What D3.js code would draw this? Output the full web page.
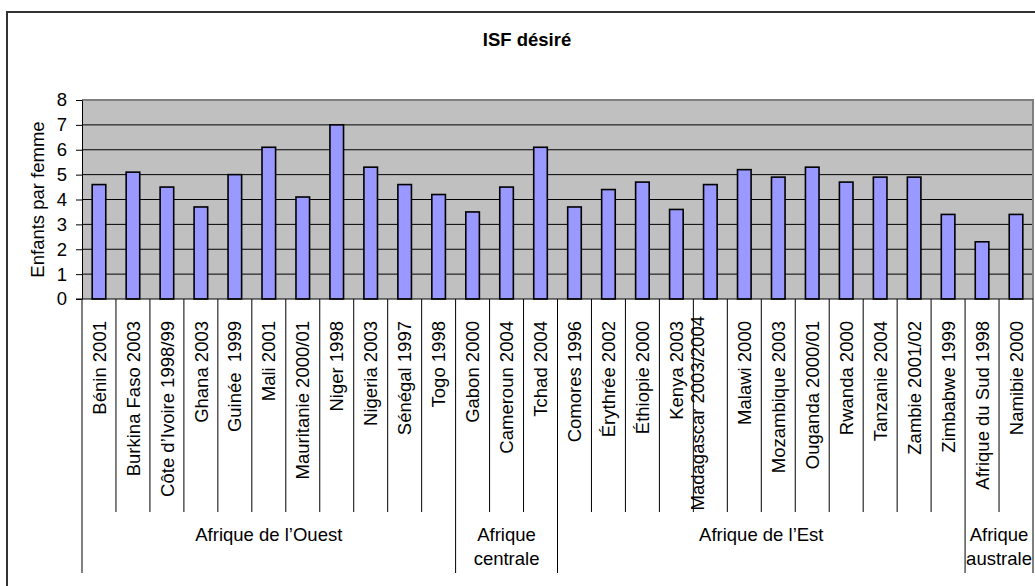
<!DOCTYPE html>
<meta charset="utf-8">
<script src="https://d3js.org/d3.v7.min.js"></script>
<style>
  body { margin: 0; background: #fff; }
  text { font-family: "Liberation Sans", Arial, sans-serif; fill: #000; }
</style>
<body>
<div id="chart"></div>
<script>
  // data
  const categories = ["Bénin 2001", "Burkina Faso 2003", "Côte d’Ivoire 1998/99", "Ghana 2003", "Guinée  1999",
    "Mali 2001", "Mauritanie 2000/01", "Niger 1998", "Nigeria 2003", "Sénégal 1997", "Togo 1998",
    "Gabon 2000", "Cameroun 2004", "Tchad 2004",
    "Comores 1996", "Érythrée 2002", "Éthiopie 2000", "Kenya 2003", "Madagascar 2003/2004", "Malawi 2000",
    "Mozambique 2003", "Ouganda 2000/01", "Rwanda 2000", "Tanzanie 2004", "Zambie 2001/02", "Zimbabwe 1999",
    "Afrique du Sud 1998", "Namibie 2000"];
  const values = [4.6, 5.1, 4.5, 3.7, 5.0, 6.1, 4.1, 7.0, 5.3, 4.6, 4.2,
    3.5, 4.5, 6.1,
    3.7, 4.4, 4.7, 3.6, 4.6, 5.2, 4.9, 5.3, 4.7, 4.9, 4.9, 3.4,
    2.3, 3.4];
  const groups = [["Afrique de l’Ouest"], ["Afrique", "centrale"], ["Afrique de l’Est"], ["Afrique", "australe"]];
  const groupSizes = [11, 3, 12, 2];
  const yTicks = [0, 1, 2, 3, 4, 5, 6, 7, 8];
  const title = "ISF désiré";
  const yTitle = "Enfants par femme";

  const W = 1035, H = 586;
  const margin = {left: 82, right: 1033, top: 100, bottom: 299};
  const fs = 18.5;

  const svg = d3.select("#chart").append("svg")
    .attr("width", W).attr("height", H);

  // outer chart frame (runs off the right and bottom edges)
  svg.append("rect")
    .attr("x", 7).attr("y", 12).attr("width", W + 20).attr("height", H + 20)
    .attr("fill", "#fff").attr("stroke", "#333").attr("stroke-width", 2);

  svg.append("text")
    .attr("x", 527).attr("y", 46)
    .attr("text-anchor", "middle")
    .style("font-weight", "bold").style("font-size", fs + "px")
    .text(title);

  const x = d3.scaleBand().domain(categories).range([margin.left, margin.right]).padding(0);
  const y = d3.scaleLinear().domain([0, 8]).range([margin.bottom, margin.top]);

  // plot area
  svg.append("rect")
    .attr("x", margin.left).attr("y", margin.top)
    .attr("width", margin.right - margin.left).attr("height", margin.bottom - margin.top)
    .attr("fill", "#c0c0c0");

  // gridlines
  svg.append("g")
    .selectAll("line")
    .data(yTicks.filter(d => d > 0 && d < 8))
    .join("line")
      .attr("x1", margin.left).attr("x2", margin.right)
      .attr("y1", d => y(d)).attr("y2", d => y(d))
      .attr("stroke", "#000").attr("stroke-width", 1);

  // grey top / right border of plot
  svg.append("path")
    .attr("d", `M${margin.left},${y(8)}H${margin.right}V${margin.bottom}`)
    .attr("fill", "none").attr("stroke", "#808080").attr("stroke-width", 2);

  // bars
  const bw = x.bandwidth();
  svg.append("g")
    .selectAll("rect")
    .data(categories)
    .join("rect")
      .attr("x", d => x(d) + bw * 0.3)
      .attr("width", bw * 0.4)
      .attr("y", (d, i) => y(values[i]))
      .attr("height", (d, i) => y(0) - y(values[i]))
      .attr("fill", "#9999ff")
      .attr("stroke", "#000").attr("stroke-width", 1.6);

  // y axis
  const yAxis = svg.append("g")
    .attr("transform", `translate(${margin.left},0)`)
    .call(d3.axisLeft(y).tickValues(yTicks).tickSize(6).tickSizeOuter(0).tickPadding(9));
  yAxis.attr("font-family", null).attr("font-size", null);
  yAxis.select(".domain").attr("stroke", "#000");
  yAxis.selectAll(".tick line").attr("stroke", "#000");
  yAxis.selectAll(".tick text").style("font-size", fs + "px");

  svg.append("text")
    .attr("transform", `translate(44,${(margin.top + margin.bottom) / 2}) rotate(-90)`)
    .attr("text-anchor", "middle")
    .style("font-size", fs + "px")
    .text(yTitle);

  // category axis baseline
  svg.append("line")
    .attr("x1", margin.left - 6).attr("x2", margin.right)
    .attr("y1", margin.bottom).attr("y2", margin.bottom)
    .attr("stroke", "#000");

  // separators: category boundaries short, group boundaries long
  const groupEnds = [0];
  groupSizes.forEach(n => groupEnds.push(groupEnds[groupEnds.length - 1] + n));
  const boundaries = d3.range(categories.length + 1);
  svg.append("g")
    .selectAll("line")
    .data(boundaries)
    .join("line")
      .attr("x1", i => margin.left + i * bw).attr("x2", i => margin.left + i * bw)
      .attr("y1", margin.bottom)
      .attr("y2", i => groupEnds.includes(i) ? 573 : 512)
      .attr("stroke", "#000").attr("stroke-width", 1);

  // category labels (rotated)
  const nudge = {"Madagascar 2003/2004": [-13, -5]};
  svg.append("g")
    .selectAll("text")
    .data(categories)
    .join("text")
      .attr("transform", d => {
        const n = nudge[d] || [0, 0];
        return `translate(${x(d) + bw / 2 + n[0] + fs * 0.36},${321 + n[1]}) rotate(-90)`;
      })
      .attr("text-anchor", "end")
      .style("font-size", fs + "px")
      .style("white-space", "pre")
      .text(d => d);

  // group labels
  svg.append("g")
    .selectAll("text")
    .data(groups)
    .join("text")
      .attr("x", (d, i) => margin.left + (groupEnds[i] + groupEnds[i + 1]) / 2 * bw)
      .attr("y", 541)
      .attr("text-anchor", "middle")
      .style("font-size", fs + "px")
      .selectAll("tspan")
      .data(d => d)
      .join("tspan")
        .attr("x", function () { return this.parentNode.getAttribute("x"); })
        .attr("dy", (d, i) => i === 0 ? 0 : 24)
        .text(d => d);
</script>
</body>
